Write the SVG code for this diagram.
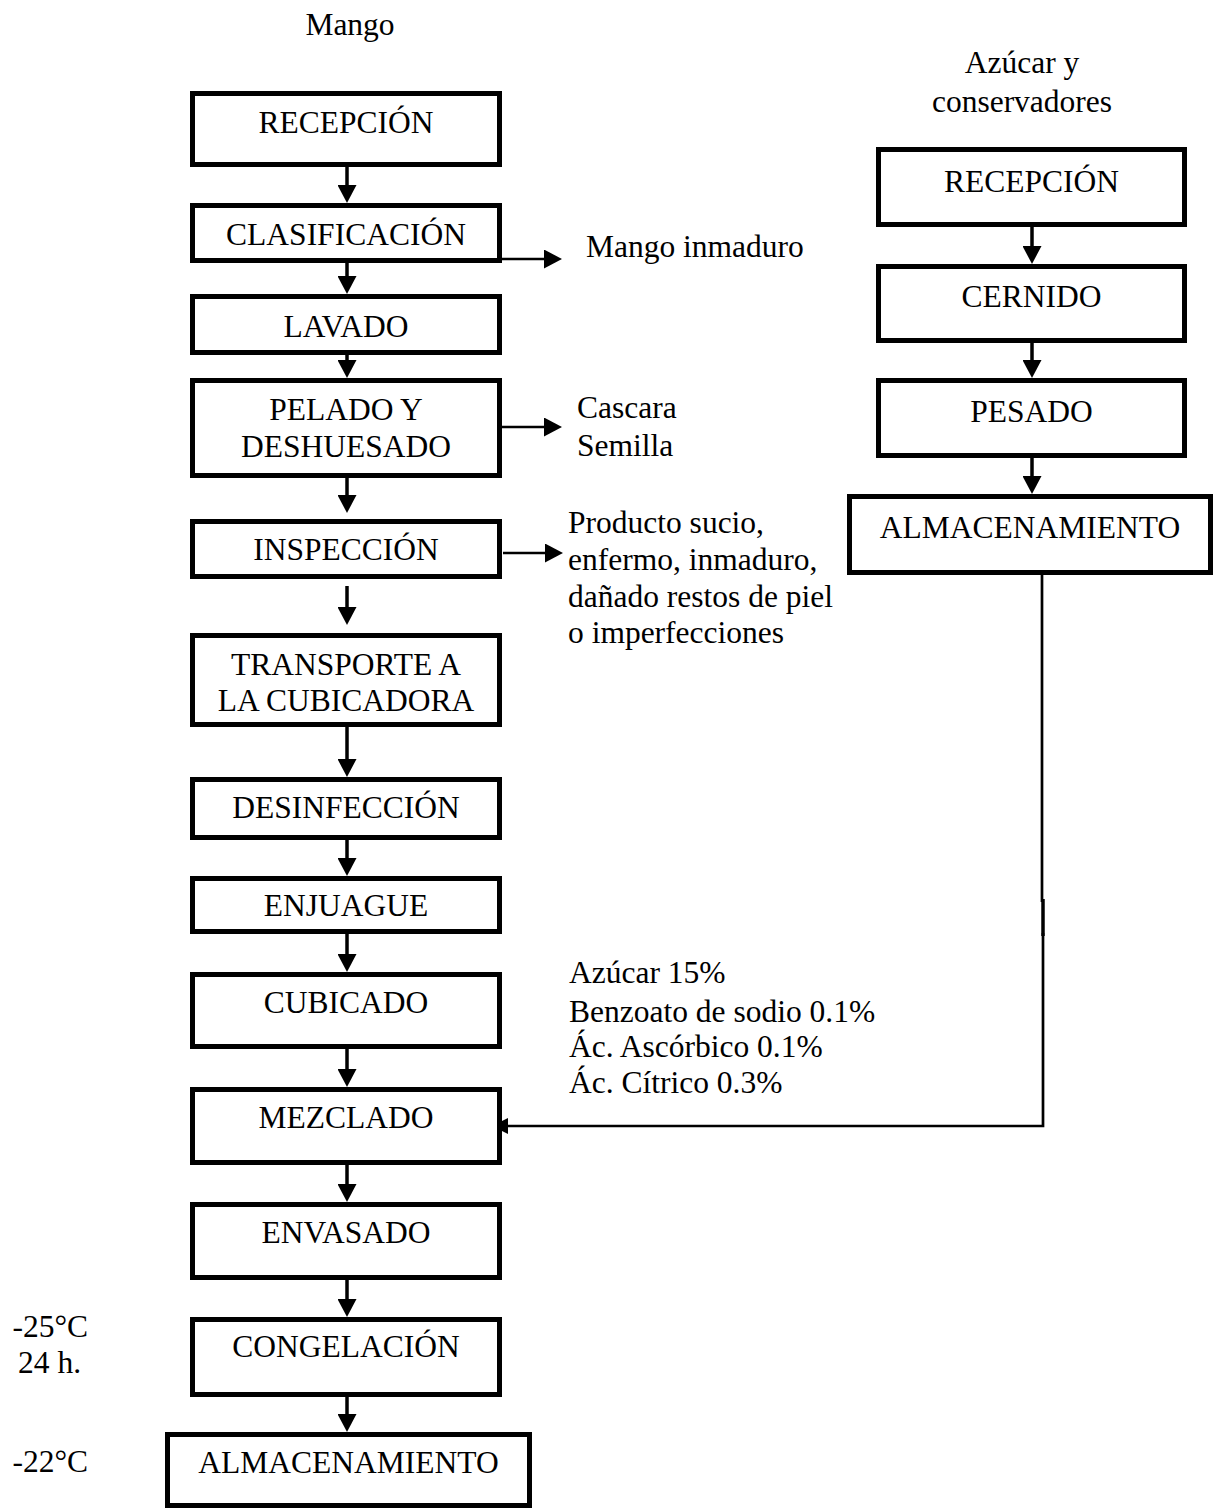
<svg xmlns="http://www.w3.org/2000/svg" width="1217" height="1511" viewBox="0 0 1217 1511">
<style>
text{font-family:"Liberation Serif","Times New Roman",serif;font-size:31.5px;fill:#000}
.c{text-anchor:middle}
.box{fill:#fff;stroke:#000;stroke-width:5}
.dn{fill:none;stroke:#000;stroke-width:3.5;marker-end:url(#ah)}
.sd{fill:none;stroke:#000;stroke-width:2.7;marker-end:url(#ah)}
.ln{fill:none;stroke:#000;stroke-width:2.7}
</style>
<defs>
<marker id="ah" markerUnits="userSpaceOnUse" markerWidth="18" markerHeight="19" refX="10" refY="9.5" orient="auto">
<path d="M0,0 L18,9.5 L0,19 Z" fill="#000"/>
</marker>
</defs>
<rect width="1217" height="1511" fill="#fff"/>
<g id="labels">
<text class="c" x="350" y="35">Mango</text>
<text class="c" x="1022" y="73">Azúcar y</text>
<text class="c" x="1022" y="112">conservadores</text>
<text x="586" y="257">Mango inmaduro</text>
<text x="577" y="418">Cascara</text>
<text x="577" y="456">Semilla</text>
<text x="568" y="533">Producto sucio,</text>
<text x="568" y="570">enfermo, inmaduro,</text>
<text x="568" y="607">dañado restos de piel</text>
<text x="568" y="643">o imperfecciones</text>
<text x="569" y="983">Azúcar 15%</text>
<text x="569" y="1022">Benzoato de sodio 0.1%</text>
<text x="569" y="1057">Ác. Ascórbico 0.1%</text>
<text x="569" y="1093">Ác. Cítrico 0.3%</text>
<text x="12.5" y="1337">-25°C</text>
<text x="18" y="1373">24 h.</text>
<text x="12.5" y="1472">-22°C</text>
</g>
<g id="connectors">
<line class="dn" x1="347" y1="167" x2="347" y2="195"/>
<line class="dn" x1="347" y1="263" x2="347" y2="286"/>
<line class="dn" x1="347" y1="355" x2="347" y2="370"/>
<line class="dn" x1="347" y1="478" x2="347" y2="505"/>
<line class="dn" x1="347" y1="586" x2="347" y2="617"/>
<line class="dn" x1="347" y1="727" x2="347" y2="769"/>
<line class="dn" x1="347" y1="840" x2="347" y2="868"/>
<line class="dn" x1="347" y1="934" x2="347" y2="964"/>
<line class="dn" x1="347" y1="1049" x2="347" y2="1079"/>
<line class="dn" x1="347" y1="1165" x2="347" y2="1194"/>
<line class="dn" x1="347" y1="1280" x2="347" y2="1309"/>
<line class="dn" x1="347" y1="1397" x2="347" y2="1424"/>
<line class="dn" x1="1032" y1="227" x2="1032" y2="256"/>
<line class="dn" x1="1032" y1="343" x2="1032" y2="370"/>
<line class="dn" x1="1032" y1="458" x2="1032" y2="486"/>
<line class="sd" x1="502" y1="259" x2="554" y2="259"/>
<line class="sd" x1="502" y1="427" x2="554" y2="427"/>
<line class="sd" x1="503" y1="553" x2="555" y2="553"/>
<path class="ln" d="M1042 575 V902 M1043 933 V1126 H505"/>
<line x1="1043" y1="899" x2="1043" y2="936" stroke="#000" stroke-width="3.5"/>
<polygon points="492,1126 508,1118 508,1134" fill="#000"/>
</g>
<g id="n-recepcion-1"><rect class="box" x="192.5" y="93.5" width="307" height="71"/><text class="c" x="346" y="133">RECEPCIÓN</text></g>
<g id="n-clasificacion"><rect class="box" x="192.5" y="205.5" width="307" height="55"/><text class="c" x="346" y="245">CLASIFICACIÓN</text></g>
<g id="n-lavado"><rect class="box" x="192.5" y="296.5" width="307" height="56"/><text class="c" x="346" y="337">LAVADO</text></g>
<g id="n-pelado"><rect class="box" x="192.5" y="380.5" width="307" height="95"/><text class="c" x="346" y="420">PELADO Y</text><text class="c" x="346" y="457">DESHUESADO</text></g>
<g id="n-inspeccion"><rect class="box" x="192.5" y="521.5" width="307" height="55"/><text class="c" x="346" y="560">INSPECCIÓN</text></g>
<g id="n-transporte"><rect class="box" x="192.5" y="635.5" width="307" height="89"/><text class="c" x="346" y="675">TRANSPORTE A</text><text class="c" x="346" y="711">LA CUBICADORA</text></g>
<g id="n-desinfeccion"><rect class="box" x="192.5" y="779.5" width="307" height="58"/><text class="c" x="346" y="818">DESINFECCIÓN</text></g>
<g id="n-enjuague"><rect class="box" x="192.5" y="878.5" width="307" height="53"/><text class="c" x="346" y="916">ENJUAGUE</text></g>
<g id="n-cubicado"><rect class="box" x="192.5" y="974.5" width="307" height="72"/><text class="c" x="346" y="1013">CUBICADO</text></g>
<g id="n-mezclado"><rect class="box" x="192.5" y="1089.5" width="307" height="73"/><text class="c" x="346" y="1128">MEZCLADO</text></g>
<g id="n-envasado"><rect class="box" x="192.5" y="1204.5" width="307" height="73"/><text class="c" x="346" y="1243">ENVASADO</text></g>
<g id="n-congelacion"><rect class="box" x="192.5" y="1319.5" width="307" height="75"/><text class="c" x="346" y="1357">CONGELACIÓN</text></g>
<g id="n-almacenamiento-1"><rect class="box" x="167.5" y="1434.5" width="362" height="71"/><text class="c" x="348.5" y="1473">ALMACENAMIENTO</text></g>
<g id="n-recepcion-2"><rect class="box" x="878.5" y="149.5" width="306" height="75"/><text class="c" x="1031.5" y="192">RECEPCIÓN</text></g>
<g id="n-cernido"><rect class="box" x="878.5" y="266.5" width="306" height="74"/><text class="c" x="1031.5" y="307">CERNIDO</text></g>
<g id="n-pesado"><rect class="box" x="878.5" y="380.5" width="306" height="75"/><text class="c" x="1031.5" y="422">PESADO</text></g>
<g id="n-almacenamiento-2"><rect class="box" x="849.5" y="496.5" width="361" height="76"/><text class="c" x="1030" y="538">ALMACENAMIENTO</text></g>
</svg>
